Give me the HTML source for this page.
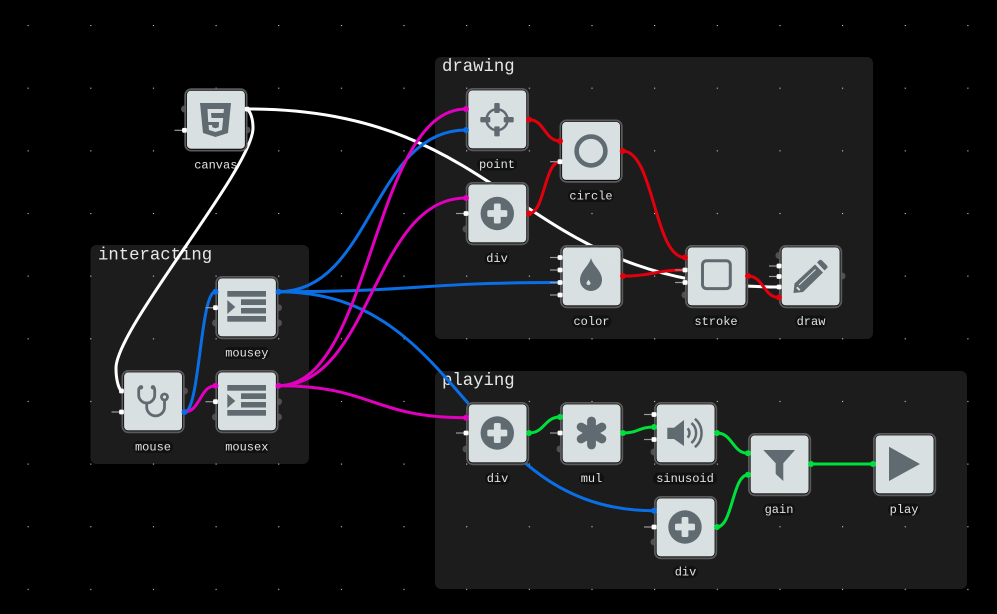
<!DOCTYPE html>
<html><head><meta charset="utf-8"><style>
html,body{margin:0;padding:0;background:#000;width:997px;height:614px;overflow:hidden}
svg{display:block}
.t{font:17.3px "Liberation Mono","DejaVu Sans Mono",monospace;fill:#e4e7e8}
.l{font:12px "Liberation Mono","DejaVu Sans Mono",monospace;fill:#dfe3e4;text-anchor:middle}
.e{fill:none;stroke-width:3;stroke-linecap:round}
.b{stroke:#0a6fe6}.m{stroke:#e000bd}.r{stroke:#e2000f}.g{stroke:#00e03c}.w{stroke:#fff}
.i{fill:#5f6b70}.s{fill:none;stroke:#5f6b70}
.pill{fill:#111}
</style></head><body>
<svg width="997" height="614" viewBox="0 0 997 614" xmlns="http://www.w3.org/2000/svg">
<defs>
<pattern id="dots" x="27.6" y="25" width="62.65" height="62.65" patternUnits="userSpaceOnUse"><rect width="1.1" height="1.1" fill="#d0d0d0"/></pattern>
<g id="n"><rect x=".9" y=".9" width="61.4" height="61.4" rx="6" fill="#000" fill-opacity=".9" stroke="#5a5a5a" stroke-width="1.8"/><rect x="2.6" y="2.4" width="58" height="58" rx="4" fill="#e1e9eb" fill-opacity=".96"/></g>
<g id="plus"><circle r="16.7" class="i"/><rect x="-10" y="-3.4" width="20" height="6.8" rx="1.5" fill="#d9e1e3"/><rect x="-3.4" y="-10" width="6.8" height="20" rx="1.5" fill="#d9e1e3"/></g>
<g id="list"><rect x="12" y="15" width="38.7" height="5.7" class="i"/><rect x="25.7" y="23.3" width="25" height="5.7" class="i"/><rect x="25.7" y="32" width="25" height="5.5" class="i"/><rect x="12" y="40" width="38.7" height="5.7" class="i"/><path d="M12 24L20 31L12 38Z" class="i"/></g>
<circle id="gp" r="3.5" fill="#505050"/>
<g id="wp"><path d="M-10 0H0" stroke="#9a9a9a" stroke-width="1.2"/><rect x="-2.4" y="-2.4" width="4.8" height="4.8" rx="1.2" fill="#fff"/></g>
</defs>

<rect width="997" height="614" fill="#000"/>
<rect x="90.5" y="245" width="218.5" height="219" rx="6" fill="#1c1c1c"/>
<rect x="435" y="57" width="438" height="282" rx="6" fill="#1c1c1c"/>
<rect x="435" y="371" width="532" height="218" rx="6" fill="#1c1c1c"/>
<rect width="997" height="614" fill="url(#dots)"/>
<text class="t" x="98" y="259.5">interacting</text>
<text class="t" x="442" y="71">drawing</text>
<text class="t" x="442" y="385">playing</text>
<text class="l" x="215.8" y="168.5">canvas</text>

<!-- gray ports under nodes -->
<g>
<use href="#gp" x="184.5" y="109"/><use href="#gp" x="247" y="130"/>
<use href="#gp" x="184.5" y="391"/>
<use href="#gp" x="215.5" y="323"/><use href="#gp" x="278.5" y="307.7"/><use href="#gp" x="278.5" y="323"/>
<use href="#gp" x="215.5" y="417"/><use href="#gp" x="278.5" y="401.7"/><use href="#gp" x="278.5" y="417"/>
<use href="#gp" x="466" y="229"/>
<use href="#gp" x="685" y="295"/>
<use href="#gp" x="779" y="255.5"/><use href="#gp" x="842" y="276"/>
<use href="#gp" x="466" y="449"/><use href="#gp" x="560" y="449"/><use href="#gp" x="654" y="452"/><use href="#gp" x="654" y="542"/>
</g>

<!-- edges -->
<g>
<path class="e w" d="M247 109C251 112 253 120 253 128C253 168 116 328 116 368C116 378 118 388 121.5 391"/>
<path class="e w" d="M247 109C513 109 513 287 779 287"/>
<path class="e b" d="M184.5 412C200 412 200 291.7 215.5 291.7"/>
<path class="e m" d="M184.5 412C200 412 200 385.7 215.5 385.7"/>
<path class="e b" d="M278.5 291.7C372.25 291.7 372.25 130 466 130"/>
<path class="e b" d="M278.5 291.7C419.25 291.7 419.25 282.5 560 282.5"/>
<path class="e b" d="M278.5 291.7C466.25 291.7 466.25 510.7 654 510.7"/>
<path class="e m" d="M278.5 385.7C372.25 385.7 372.25 109 466 109"/>
<path class="e m" d="M278.5 385.7C372.25 385.7 372.25 198 466 198"/>
<path class="e m" d="M278.5 385.7C372.25 385.7 372.25 417.7 466 417.7"/>
<path class="e r" d="M529 119.6C544.5 119.6 544.5 141 560 141"/>
<path class="e r" d="M529 213.5C544.5 213.5 544.5 161.7 560 161.7"/>
<path class="e r" d="M622.7 151C654 151 654 257.5 685 257.5"/>
<path class="e r" d="M623 276C654 276 654 270 685 270"/>
<path class="e r" d="M748 276C763.5 276 763.5 297.5 779 297.5"/>
<path class="e g" d="M529 433C544.5 433 544.5 417 560 417"/>
<path class="e g" d="M623 433C638.5 433 638.5 427 654 427"/>
<path class="e g" d="M717 433C732.5 433 732.5 453.3 748 453.3"/>
<path class="e g" d="M717 527C732.5 527 732.5 474.7 748 474.7"/>
<path class="e g" d="M811 464H873"/>
</g>

<!-- nodes -->
<use href="#n" x="184.3" y="88.3"/>
<use href="#n" x="121.5" y="370"/>
<use href="#n" x="215.3" y="276"/>
<use href="#n" x="215.3" y="370"/>
<use href="#n" x="465.7" y="88"/>
<use href="#n" x="559.5" y="119.5"/>
<use href="#n" x="465.7" y="182"/>
<use href="#n" x="560" y="245"/>
<use href="#n" x="685" y="245"/>
<use href="#n" x="779" y="245"/>
<use href="#n" x="466" y="402"/>
<use href="#n" x="560" y="402"/>
<use href="#n" x="654" y="402"/>
<use href="#n" x="654" y="496"/>
<use href="#n" x="748" y="433"/>
<use href="#n" x="873" y="433"/>

<!-- icons -->
<path class="i" fill-rule="evenodd" d="M200 103H231L228 133L215.5 137L203 133ZM207.5 109L208.2 122H219.1L218.7 127.3L215.5 128.2L212.3 127.3L212 125H208.6L209 130L215.5 132L222 130L223.2 118H211.5L211 113H223.5L224 109Z"/>
<g class="s" stroke-width="2.8" stroke-linecap="round"><path d="M141 387.3Q138.7 387.3 138.7 390V395A8 8 0 0 0 154.7 395V390Q154.7 387.3 152.5 387.3"/><path d="M146.7 403V407A8.9 8.9 0 0 0 164.5 407V401"/><circle cx="164.5" cy="397" r="3"/></g>
<circle cx="141" cy="387.3" r="2.2" class="i"/><circle cx="153" cy="387.3" r="2.2" class="i"/>
<use href="#list" x="215.3" y="276"/>
<use href="#list" x="215.3" y="370"/>
<g transform="translate(497 119.7)"><circle r="10.5" class="s" stroke-width="2.5"/><rect x="-2.7" y="-16.7" width="5.4" height="10" rx="1" class="i"/><rect x="-2.7" y="6.7" width="5.4" height="10" rx="1" class="i"/><rect x="-16.7" y="-2.7" width="10" height="5.4" rx="1" class="i"/><rect x="6.7" y="-2.7" width="10" height="5.4" rx="1" class="i"/></g>
<circle cx="591" cy="151" r="14.4" class="s" stroke-width="4.6"/>
<use href="#plus" x="497.3" y="213.5"/>
<path class="i" d="M591 258C593 266 602 271 602 280A11 11 0 0 1 580 280C580 271 589 266 591 258Z"/>
<path fill="#d9e1e3" d="M588.5 279.5C589 281 590.5 282 590.5 283A2 2 0 0 1 586.5 283C586.5 282 588 281 588.5 279.5Z"/>
<rect x="702.5" y="260.8" width="27.8" height="27.8" rx="4" class="s" stroke-width="3"/>
<path class="i" d="M817 262.5L819.5 260Q820.8 259.3 822 260.5L827 265.5Q828 266.8 827.2 268L824.5 270.5Z"/>
<path class="i" d="M815 264.5L823 272.5L803 292L793.5 293L794.5 283.5Z"/>
<path d="M799 285L815.5 269.5" stroke="#d9e1e3" stroke-width="1.1"/>
<path d="M796.8 287.3L799.8 290.2" stroke="#d9e1e3" stroke-width="1.8"/>
<use href="#plus" x="497.3" y="433"/>
<g stroke="#5f6b70" stroke-width="8.8" stroke-linecap="round"><path d="M591.5 421V445"/><path d="M581.1 427L601.9 439"/><path d="M601.9 427L581.1 439"/></g>
<path class="i" d="M667.3 427.7H674L684 420V446L674 439H667.3Z"/>
<g class="s" stroke-width="2.5"><path d="M687.6 428.4A6.5 6.5 0 0 1 687.6 437.6"/><path d="M691.4 423A13 13 0 0 1 691.4 443"/><path d="M694.9 418.8A18.5 18.5 0 0 1 694.9 447.2"/></g>
<use href="#plus" x="685" y="527"/>
<path class="i" d="M763.3 450H795L783.3 463.3V481L775.7 474V463.3Z"/>
<path class="i" d="M889 446.7L920 464L889 481Z"/>

<!-- ports -->
<g>
<use href="#wp" x="184.5" y="130.3"/>
<rect x="244.7" y="106.7" width="4.8" height="4.8" rx="1.2" fill="#fff"/>
<rect x="119.1" y="388.6" width="4.8" height="4.8" rx="1.2" fill="#fff"/>
<use href="#wp" x="121.5" y="412"/>
<use href="#wp" x="215.5" y="307.7"/>
<use href="#wp" x="215.5" y="401.7"/>
<use href="#wp" x="466" y="213.5"/>
<use href="#wp" x="560" y="161.7"/>
<use href="#wp" x="560" y="257.5"/><use href="#wp" x="560" y="270"/><use href="#wp" x="560" y="295"/>
<use href="#wp" x="560" y="282.5"/>
<use href="#wp" x="685" y="270"/><use href="#wp" x="685" y="282.5"/>
<use href="#wp" x="779" y="266"/><use href="#wp" x="779" y="276.5"/>
<rect x="776.6" y="284.6" width="4.8" height="4.8" rx="1.2" fill="#fff"/>
<use href="#wp" x="466" y="433"/>
<use href="#wp" x="560" y="433"/>
<use href="#wp" x="654" y="414.5"/><use href="#wp" x="654" y="439.5"/>
<use href="#wp" x="654" y="527"/>
</g>
<g fill="#0a6fe6">
<circle cx="184.5" cy="412" r="3"/><circle cx="215.5" cy="291.7" r="3"/><circle cx="278.5" cy="291.7" r="3"/><circle cx="466" cy="130" r="3"/><circle cx="654" cy="510.7" r="3"/>
</g>
<g fill="#e000bd">
<circle cx="215.5" cy="385.7" r="3"/><circle cx="278.5" cy="385.7" r="3"/><circle cx="466" cy="109" r="3"/><circle cx="466" cy="198" r="3"/><circle cx="466" cy="417.7" r="3"/>
</g>
<g fill="#e2000f">
<circle cx="529" cy="119.6" r="3"/><circle cx="560" cy="141" r="3"/><circle cx="529" cy="213.5" r="3"/><circle cx="622.7" cy="151" r="3"/><circle cx="685" cy="257.5" r="3"/><circle cx="623" cy="276" r="3"/><circle cx="748" cy="276" r="3"/><circle cx="779" cy="297.5" r="3"/>
</g>
<g fill="#00e03c">
<circle cx="529" cy="433" r="3"/><circle cx="560" cy="417" r="3"/><circle cx="623" cy="433" r="3"/><circle cx="654" cy="427" r="3"/><circle cx="717" cy="433" r="3"/><circle cx="717" cy="527" r="3"/><circle cx="748" cy="453.3" r="3"/><circle cx="748" cy="474.7" r="3"/><circle cx="811" cy="464" r="3"/><circle cx="873" cy="464" r="3"/>
</g>

<!-- labels -->
<g>
<rect class="pill" x="133" y="441" width="40" height="12" rx="6"/><text class="l" x="153" y="450.5">mouse</text>
<rect class="pill" x="223.8" y="347" width="46" height="12" rx="6"/><text class="l" x="246.8" y="356.3">mousey</text>
<rect class="pill" x="223.8" y="441" width="46" height="12" rx="6"/><text class="l" x="246.8" y="450.5">mousex</text>
<rect class="pill" x="477" y="158.5" width="40" height="12" rx="6"/><text class="l" x="497" y="168">point</text>
<rect class="pill" x="568" y="190" width="46" height="12" rx="6"/><text class="l" x="591" y="199.6">circle</text>
<rect class="pill" x="484.5" y="252.5" width="25" height="12" rx="6"/><text class="l" x="497" y="262">div</text>
<rect class="pill" x="571.5" y="315.5" width="40" height="12" rx="6"/><text class="l" x="591.5" y="325">color</text>
<rect class="pill" x="693" y="315.5" width="46" height="12" rx="6"/><text class="l" x="716" y="325">stroke</text>
<rect class="pill" x="795" y="315.5" width="32" height="12" rx="6"/><text class="l" x="811" y="325">draw</text>
<rect class="pill" x="485" y="472.5" width="25" height="12" rx="6"/><text class="l" x="497.5" y="482">div</text>
<rect class="pill" x="579" y="472.5" width="25" height="12" rx="6"/><text class="l" x="591.5" y="482">mul</text>
<rect class="pill" x="653" y="472.5" width="64" height="12" rx="6"/><text class="l" x="685" y="482">sinusoid</text>
<rect class="pill" x="673" y="566" width="25" height="12" rx="6"/><text class="l" x="685.5" y="575.5">div</text>
<rect class="pill" x="763" y="503.5" width="32" height="12" rx="6"/><text class="l" x="779" y="513">gain</text>
<rect class="pill" x="888" y="503.5" width="32" height="12" rx="6"/><text class="l" x="904" y="513">play</text>
</g>
</svg>
</body></html>
